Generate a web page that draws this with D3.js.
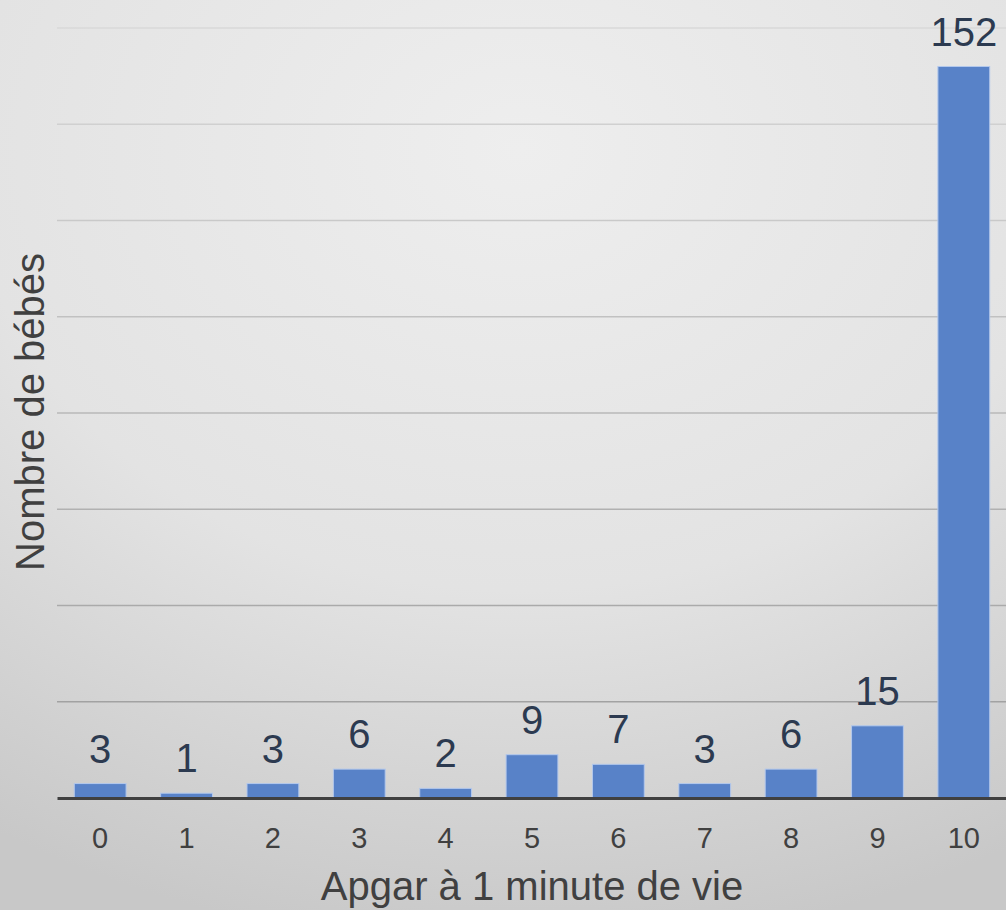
<!DOCTYPE html>
<html>
<head>
<meta charset="utf-8">
<script src="https://cdn.jsdelivr.net/npm/d3@7"></script>
<style>
  body { margin: 0; }
  svg { display: block; font-family: "Liberation Sans", Arial, sans-serif; }
</style>
</head>
<body>
<svg id="root"></svg>
<script>
// data
const scores = ["0", "1", "2", "3", "4", "5", "6", "7", "8", "9", "10"];
const babies = [3, 1, 3, 6, 2, 9, 7, 3, 6, 15, 152];
const yTicks = [0, 20, 40, 60, 80, 100, 120, 140, 160];

const W = 1006, H = 910;
const margin = { top: 28, right: -1, bottom: 112, left: 57 },
  width = W - margin.left - margin.right,
  height = H - margin.top - margin.bottom;

const root = d3.select("#root").attr("width", W).attr("height", H);

// background gradient (elliptical, light near the top middle)
const defs = root.append("defs");
const grad = defs.append("radialGradient")
  .attr("id", "bg")
  .attr("gradientUnits", "userSpaceOnUse")
  .attr("cx", 0).attr("cy", 0).attr("r", 1)
  .attr("gradientTransform", "translate(520,150) scale(1000,800)");
grad.append("stop").attr("offset", "0%").attr("stop-color", "#eeeeee");
grad.append("stop").attr("offset", "55%").attr("stop-color", "#e3e3e3");
grad.append("stop").attr("offset", "100%").attr("stop-color", "#c8c8c8");

root.append("rect")
  .attr("width", W).attr("height", H)
  .attr("fill", "url(#bg)");

const svg = root.append("g")
  .attr("transform", "translate(" + margin.left + "," + margin.top + ")");

const xScale = d3.scaleBand(scores, [0, width]).paddingInner(0.4).paddingOuter(0.2);
const yScale = d3.scaleLinear([0, 160], [height, 0]);

// gridlines, lighter towards the top
const gridColor = d3.scaleLinear([0, 160], ["#9a9a9a", "#d8d8d8"]);
svg.append("g")
  .selectAll("line")
  .data(yTicks.slice(1))
  .join("line")
  .attr("x1", 0)
  .attr("x2", width)
  .attr("y1", d => yScale(d))
  .attr("y2", d => yScale(d))
  .attr("stroke", d => gridColor(d))
  .attr("stroke-width", 1.5);

// bars
svg.append("g")
  .selectAll("rect")
  .data(babies)
  .join("rect")
  .attr("x", (d, i) => xScale(scores[i]))
  .attr("y", d => yScale(d))
  .attr("width", xScale.bandwidth())
  .attr("height", d => height - yScale(d))
  .attr("fill", "#5882c8")
  .attr("stroke", "#b3c8ec")
  .attr("stroke-width", 1);

// value labels
svg.append("g")
  .selectAll("text")
  .data(babies)
  .join("text")
  .attr("x", (d, i) => xScale(scores[i]) + xScale.bandwidth() / 2)
  .attr("y", d => yScale(d) - 21)
  .attr("text-anchor", "middle")
  .attr("font-size", 40)
  .attr("fill", "#2c3a50")
  .text(d => d);

// x axis
const xAxis = d3.axisBottom(xScale).tickSize(0).tickPadding(29);
const gx = svg.append("g")
  .attr("transform", `translate(0,${height})`)
  .call(xAxis);
gx.select(".domain")
  .attr("stroke", "#404040")
  .attr("stroke-width", 3);
gx.selectAll("text")
  .attr("font-size", 29)
  .attr("font-family", "\"Liberation Sans\", Arial, sans-serif")
  .attr("fill", "#404040");

// axes labels
root.append("text")
  .attr("text-anchor", "middle")
  .attr("x", 532)
  .attr("y", 900)
  .attr("font-size", 40)
  .attr("fill", "#404040")
  .text("Apgar à 1 minute de vie");

root.append("text")
  .attr("text-anchor", "middle")
  .attr("transform", "translate(44,412) rotate(-90)")
  .attr("font-size", 40)
  .attr("fill", "#404040")
  .text("Nombre de bébés");
</script>
</body>
</html>
